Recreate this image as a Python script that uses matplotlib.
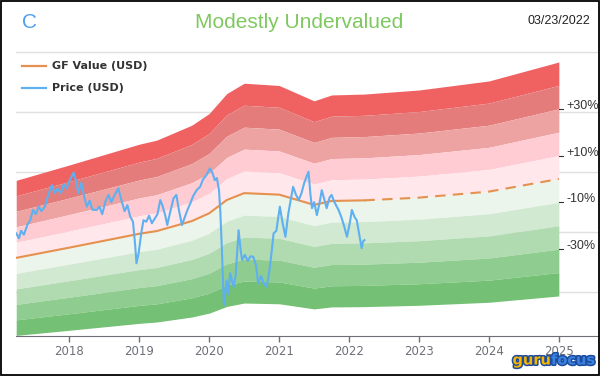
import matplotlib.pyplot as plt
import matplotlib.patheffects as pe
from matplotlib.lines import Line2D
from matplotlib.patches import Rectangle
import numpy as np

# GF Value (USD) (year fraction)
gf_dates = [2017.24, 2018.0, 2019.0, 2019.25, 2019.75, 2020.0, 2020.25, 2020.5,
            2021.0, 2021.5, 2021.75, 2022.22, 2023.0, 2024.0, 2025.0]
gf_vals = [51.5, 54.9, 59.5, 60.4, 63.7, 66.3, 70.7, 73.0,
           72.5, 69.1, 70.4, 70.6, 71.5, 73.5, 77.7]
last_date = 2022.22  # 03/23/2022, solid up to here, dashed after

# Price (USD)
price_dates = [2017.24, 2017.28, 2017.31, 2017.35, 2017.40, 2017.44, 2017.48, 2017.52,
               2017.56, 2017.60, 2017.65, 2017.70, 2017.75, 2017.79, 2017.83, 2017.88,
               2017.92, 2017.96, 2018.00, 2018.06, 2018.09, 2018.13, 2018.17, 2018.21,
               2018.25, 2018.29, 2018.33, 2018.39, 2018.43, 2018.47, 2018.52, 2018.56,
               2018.60, 2018.65, 2018.70, 2018.74, 2018.79, 2018.83, 2018.87, 2018.91,
               2018.94, 2018.96, 2018.99, 2019.03, 2019.06, 2019.10, 2019.14, 2019.18,
               2019.22, 2019.26, 2019.30, 2019.33, 2019.37, 2019.40, 2019.44, 2019.49,
               2019.53, 2019.57, 2019.61, 2019.65, 2019.69, 2019.73, 2019.77, 2019.82,
               2019.87, 2019.91, 2019.96, 2020.01, 2020.05, 2020.08, 2020.11, 2020.14,
               2020.16, 2020.18, 2020.20, 2020.21, 2020.23, 2020.25, 2020.27, 2020.30,
               2020.33, 2020.35, 2020.38, 2020.42, 2020.45, 2020.47, 2020.51, 2020.55,
               2020.59, 2020.63, 2020.67, 2020.70, 2020.74, 2020.78, 2020.82, 2020.86,
               2020.90, 2020.92, 2020.96, 2021.01, 2021.05, 2021.09, 2021.13, 2021.16,
               2021.20, 2021.24, 2021.28, 2021.32, 2021.36, 2021.42, 2021.45, 2021.47,
               2021.50, 2021.54, 2021.58, 2021.61, 2021.65, 2021.68, 2021.72, 2021.75,
               2021.79, 2021.85, 2021.89, 2021.93, 2021.97, 2022.01, 2022.04, 2022.08,
               2022.11, 2022.14, 2022.18, 2022.20, 2022.22]
price_vals = [59.6, 58.0, 60.5, 59.2, 62.5, 64.0, 67.4, 66.0,
              68.5, 67.0, 68.5, 72.5, 75.7, 73.0, 74.5, 73.0,
              76.0, 74.5, 77.0, 79.8, 77.5, 73.0, 76.5, 72.0,
              68.5, 70.5, 67.5, 67.4, 68.5, 66.0, 70.5, 72.4,
              70.0, 72.5, 74.6, 71.0, 67.0, 69.0, 65.2, 63.5,
              56.0, 49.7, 53.0, 60.0, 64.0, 63.5, 65.5, 63.0,
              64.5, 66.0, 70.7, 69.0, 65.7, 62.4, 66.5, 71.3,
              72.4, 67.0, 62.4, 65.0, 67.5, 69.6, 72.0, 74.0,
              75.1, 77.5, 79.0, 81.2, 79.5, 77.3, 78.0, 74.0,
              66.3, 55.0, 42.0, 35.8, 40.0, 44.0, 39.5, 46.4,
              43.5, 41.9, 46.0, 60.7, 54.0, 50.8, 52.5, 50.5,
              52.0, 51.9, 49.0, 43.0, 45.5, 43.0, 41.9, 47.0,
              55.0, 59.6, 60.5, 68.5, 63.0, 58.5, 66.0, 70.0,
              75.1, 72.5, 70.7, 73.0, 76.5, 80.1, 72.0, 68.0,
              70.0, 65.7, 70.0, 74.0, 70.5, 68.0, 71.5, 72.4,
              70.0, 67.4, 65.0, 62.0, 58.5, 63.0, 67.4, 65.0,
              64.0, 60.0, 54.7, 57.0, 57.4]

# band edges as fraction of GF value, colors from top band to bottom band
band_levels = [1.5, 1.4, 1.3, 1.2, 1.1, 1.0, 0.9, 0.8, 0.7, 0.6, 0.5]
band_colors = ['#f06262', '#e47c7c', '#eea3a3', '#ffccd4', '#ffe7eb',
               '#ebf5eb', '#d1e9d1', '#b0dab0', '#8fcc8f', '#74c074']
right_labels = ['+30%', '+10%', '-10%', '-30%']
right_levels = [1.3, 1.1, 0.9, 0.7]
years = [2018, 2019, 2020, 2021, 2022, 2023, 2024, 2025]

W, H = 602, 376
fig = plt.figure(figsize=(W / 100, H / 100), dpi=100)
ax = fig.add_axes([16 / W, 1 - 335.7 / H, 582 / W, (335.7 - 51) / H])

gd = np.array(gf_dates)
gv = np.array(gf_vals)
for i in range(len(band_colors)):
    ax.fill_between(gd, gv * band_levels[i], gv * band_levels[i + 1],
                    color=band_colors[i], lw=0, zorder=2)

# GF value line, solid for past, dashed for future
past = gd <= last_date
fut = ~past
fut[np.where(past)[0][-1]] = True
ax.plot(gd[past], gv[past], color='#e5914f', lw=1.5, zorder=3)
ax.plot(gd[fut], gv[fut], color='#e5914f', lw=1.5, ls=(0, (5, 3.5)), zorder=3)

ax.plot(price_dates, price_vals, color='#5fb0f0', lw=1.5, zorder=4)

# right-hand % labels at the end of the bands
for lab, lv in zip(right_labels, right_levels):
    y = gf_vals[-1] * lv
    ax.plot([gf_dates[-1], gf_dates[-1] + 0.06], [y, y], color='#333333', lw=0.8, zorder=5)
    ax.annotate(lab, xy=(gf_dates[-1], y), xytext=(7.5, 3), textcoords='offset pixels',
                fontsize=9, family='Liberation Sans', color='#333333',
                va='center', ha='left')

ax.set_xlim(2017.237, 2025.56)
ax.set_ylim(25.65, 120.2)
ax.set_yticks([40, 60, 80, 100, 120])
ax.yaxis.grid(True, color='#e0e0e0', lw=1, zorder=0)
ax.set_axisbelow(True)
ax.tick_params(axis='y', left=False, labelleft=False)
ax.set_xticks(years)
ax.set_xticklabels([str(y) for y in years])
ax.tick_params(axis='x', color='#6e7079', labelcolor='#6e7079', length=4,
               width=1, labelsize=8.5, pad=3)
for s in ['top', 'right', 'left']:
    ax.spines[s].set_visible(False)
ax.spines['bottom'].set_color('#6e7079')
ax.patch.set_alpha(0)

# header texts
fig.text(22 / W, 1 - 22 / H, 'C', color='#4f9ff2', fontsize=15,
         family='Liberation Sans', va='center', ha='left')
fig.text(299 / W, 1 - 22 / H, 'Modestly Undervalued', color='#7ec95f', fontsize=15,
         family='Liberation Sans', va='center', ha='center')
fig.text(590 / W, 1 - 21.5 / H, '03/23/2022', color='#222222', fontsize=9,
         family='Liberation Sans', va='center', ha='right')

# legend
fig.lines.append(Line2D([22 / W, 46 / W], [1 - 66 / H] * 2, color='#e5914f', lw=1.6,
                        transform=fig.transFigure))
fig.lines.append(Line2D([22 / W, 46 / W], [1 - 88 / H] * 2, color='#5fb0f0', lw=1.6,
                        transform=fig.transFigure))
fig.text(52 / W, 1 - 66 / H, 'GF Value (USD)', fontsize=8, fontweight='bold',
         color='#333333', va='center')
fig.text(52 / W, 1 - 88 / H, 'Price (USD)', fontsize=8, fontweight='bold',
         color='#333333', va='center')

# logo
stroke = [pe.withStroke(linewidth=2.2, foreground='#1d4c9c')]
fig.text(551 / W, 1 - 360 / H, 'guru', fontsize=10.5, fontweight='bold', color='#f7b500',
         ha='right', va='center', path_effects=stroke)
fig.text(551 / W, 1 - 360 / H, 'focus', fontsize=10.5, fontweight='bold', color='#3b82e0',
         ha='left', va='center', path_effects=stroke)

# outer frame
fig.patches.append(Rectangle((0.8 / W, 0.8 / H), 598.5 / W, 374.4 / H, fill=False,
                             edgecolor='black', lw=1.3, transform=fig.transFigure))

fig.savefig('out.png', dpi=100)
